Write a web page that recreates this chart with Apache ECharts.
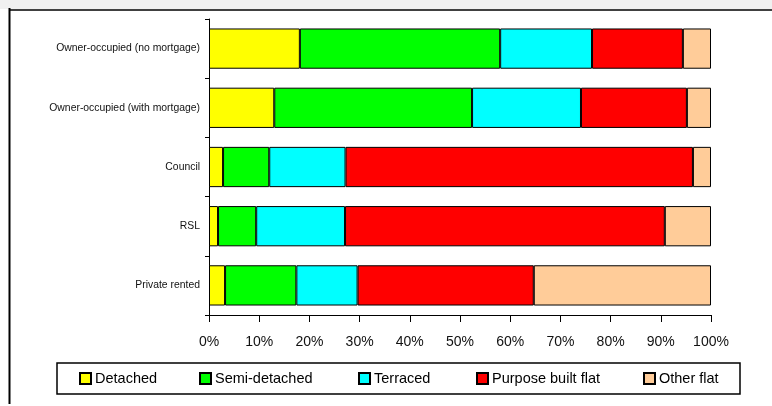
<!DOCTYPE html>
<html>
<head>
<meta charset="utf-8">
<script src="https://cdn.jsdelivr.net/npm/echarts@6/dist/echarts.min.js"></script>
<style>html,body{margin:0;padding:0;background:#fff}#c{width:772px;height:406px}</style>
</head>
<body>
<div id="c"></div>
<script>
const categories = ['Owner-occupied (no mortgage)', 'Owner-occupied (with mortgage)', 'Council', 'RSL', 'Private rented'];
const detached = [18.1, 13.0, 2.8, 1.8, 3.2];
const semiDetached = [39.9, 39.4, 9.2, 7.6, 14.2];
const terraced = [18.3, 21.7, 15.2, 17.7, 12.2];
const purposeBuiltFlat = [18.1, 21.1, 69.2, 63.7, 35.1];
const otherFlat = [5.6, 4.8, 3.6, 9.2, 35.3];
const xTicks = [0, 10, 20, 30, 40, 50, 60, 70, 80, 90, 100];

const seriesDefs = [
  ['Detached', detached, '#ffff00', 79],
  ['Semi-detached', semiDetached, '#00ff00', 199],
  ['Terraced', terraced, '#00ffff', 358],
  ['Purpose built flat', purposeBuiltFlat, '#ff0000', 476],
  ['Other flat', otherFlat, '#ffcc99', 643]
];

const chart = echarts.init(document.getElementById('c'), null, {renderer: 'canvas'});
const font = 'Liberation Sans, Arial, sans-serif';
chart.setOption({
  animation: false,
  backgroundColor: '#fff',
  grid: {left: 209, right: 61, top: 19, bottom: 91, containLabel: false},
  xAxis: {
    type: 'value', min: 0, max: 100, interval: 10,
    axisLine: {show: true, lineStyle: {color: '#000', width: 1}},
    axisTick: {show: true, length: 7, lineStyle: {color: '#000'}},
    splitLine: {show: false},
    axisLabel: {margin: 20, fontSize: 14, color: '#111', fontFamily: font,
      formatter: v => xTicks.includes(v) ? v + '%' : ''}
  },
  yAxis: {
    type: 'category', data: categories, inverse: true,
    axisLine: {show: true, lineStyle: {color: '#000', width: 1}},
    axisTick: {show: true, length: 4, lineStyle: {color: '#000'}},
    axisLabel: {margin: 9, fontSize: 10.4, color: '#111', fontFamily: font}
  },
  legend: seriesDefs.map(d => ({
    data: [d[0]], left: d[3], top: 371, padding: 0,
    itemWidth: 11, itemHeight: 11, icon: 'rect', itemGap: 0,
    textStyle: {fontSize: 14.5, color: '#000', fontFamily: font, padding: [0, 0, 0, -1]},
    selectedMode: false
  })),
  series: seriesDefs.map(d => ({
    name: d[0], type: 'bar', stack: 'all', data: d[1],
    barCategoryGap: '32%',
    itemStyle: {color: d[2], borderColor: '#000', borderWidth: 1}
  })),
  graphic: [
    {type: 'rect', shape: {x: 0, y: 0, width: 772, height: 9}, style: {fill: '#f0f0f0'}, silent: true, z: -1},
    {type: 'line', shape: {x1: 9, y1: 10, x2: 772, y2: 10}, style: {stroke: '#000', lineWidth: 1.5}},
    {type: 'line', shape: {x1: 9.5, y1: 8, x2: 9.5, y2: 404}, style: {stroke: '#000', lineWidth: 2}},
    {type: 'rect', shape: {x: 57, y: 363, width: 683, height: 31}, style: {fill: 'none', stroke: '#000', lineWidth: 1.5}}
  ]
});
</script>
</body>
</html>
